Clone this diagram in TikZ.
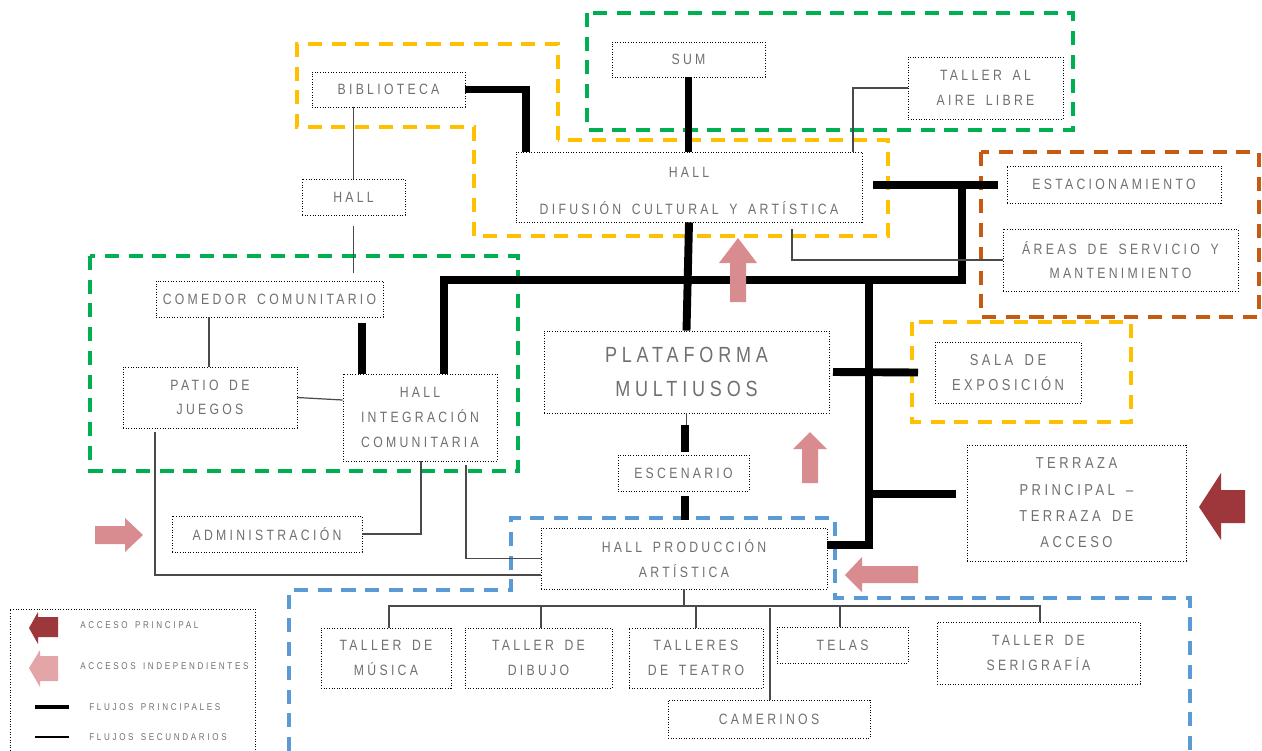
\documentclass[tikz,border=0pt]{standalone}
\usepackage{fontspec}
\setmainfont{Liberation Sans}
\newfontfamily\lab[FakeStretch=0.82,LetterSpace=22,WordSpace=1.6]{Liberation Sans}
\newfontfamily\legf[FakeStretch=0.82,LetterSpace=27,WordSpace=1.5]{Liberation Sans}
\definecolor{labgray}{HTML}{707070}
\definecolor{gyel}{HTML}{FFC000}
\definecolor{ggrn}{HTML}{00B050}
\definecolor{gbrn}{HTML}{C55A11}
\definecolor{gblu}{HTML}{5B9BD5}
\definecolor{accpink}{HTML}{D98C8F}
\definecolor{acclight}{HTML}{E3A5A8}
\definecolor{accdark}{HTML}{9E373B}
\definecolor{secline}{HTML}{4A4A4A}
\tikzset{
  box/.style={draw=black, densely dotted, line width=0.5pt, align=center, text=labgray,
    font=\lab\fontsize{8.5}{14}\selectfont, inner sep=0pt},
  mainflow/.style={line width=4.5pt, black, line cap=butt},
  secflow/.style={line width=0.7pt, secline},
  grp/.style={line width=2.2pt, dash pattern=on 8pt off 5.5pt},
  legtext/.style={text=labgray, font=\legf\fontsize{5.6}{7}\selectfont, anchor=west, inner sep=0pt},
}
\newcommand{\bx}[7][]{\node[box,#1,minimum width={(#5-#3)*0.02cm},minimum height={(#6-#4)*0.02cm}] (#2) at ({(#3+#5)/2},{(#4+#6)/2}) {#7};}
\begin{document}
\begin{tikzpicture}[x=0.02cm,y=-0.02cm]
\fill[white] (0,0) rectangle (1262,751);
\useasboundingbox (0,0) rectangle (1262,751);

% group outlines
\draw[grp, gyel] (558,140) -- (558,44) -- (297,44) -- (297,127) -- (474,127) -- (474,236) -- (888,236) -- (888,140) -- cycle;
\draw[grp, ggrn] (587,13) rectangle (1073,130);
\draw[grp, gbrn] (981,152) rectangle (1259,317);
\draw[grp, gyel] (912,322) rectangle (1131,422);
\draw[grp, ggrn] (90,256) rectangle (518,471);
\draw[grp, gblu] (289,751) -- (289,590) -- (511,590) -- (511,518) -- (835,518) -- (835,598) -- (1190,598) -- (1190,751);

% boxes
\bx{bib}{312}{72}{465}{107}{BIBLIOTECA}
\bx{hall}{302}{179}{405}{215}{HALL}
\bx{sum}{612}{42}{765}{77}{SUM}
\bx{aire}{908}{57}{1063}{119}{TALLER AL\\AIRE LIBRE}
\bx{hd}{516}{152}{862}{222}{\rule{0pt}{10pt}HALL\\[7pt]DIFUSIÓN CULTURAL Y ARTÍSTICA}
\bx{est}{1007}{166}{1221}{203}{ESTACIONAMIENTO}
\bx{areas}{1003}{229}{1238}{291}{ÁREAS DE SERVICIO Y\\MANTENIMIENTO}
\bx{com}{156}{281}{383}{317}{COMEDOR COMUNITARIO}
\bx{patio}{123}{367}{297}{428}{PATIO DE\\JUEGOS}
\bx{hi}{343}{374}{497}{461}{HALL\\INTEGRACIÓN\\COMUNITARIA}
\bx[font=\lab\fontsize{12.5}{19}\selectfont]{plat}{544}{331}{829}{413}{PLATAFORMA\\MULTIUSOS}
\bx[font=\lab\fontsize{9}{14.5}\selectfont]{sala}{935}{342}{1081}{403}{SALA DE\\EXPOSICIÓN}
\bx{esc}{618}{455}{749}{491}{ESCENARIO}
\bx[font=\lab\fontsize{9}{15}\selectfont]{terr}{967}{445}{1186}{561}{TERRAZA\\PRINCIPAL –\\TERRAZA DE\\ACCESO}
\bx{adm}{172}{516}{362}{552}{ADMINISTRACIÓN}
\bx{hp}{541}{528}{827}{589}{HALL PRODUCCIÓN\\ARTÍSTICA}
\bx{mus}{321}{628}{451}{688}{TALLER DE\\MÚSICA}
\bx{dib}{465}{628}{612}{688}{TALLER DE\\DIBUJO}
\bx{tea}{629}{628}{763}{688}{TALLERES\\DE TEATRO}
\bx{telas}{777}{627}{908}{663}{TELAS}
\bx{seri}{937}{622}{1140}{684}{TALLER DE\\SERIGRAFÍA}
\bx{cam}{668}{700}{870}{738}{CAMERINOS}

% named free ends
\coordinate (estA) at (873,185);
\coordinate (estB) at (998,185);
\coordinate (jr) at (962,280);
\coordinate (jk) at (869,280);
\coordinate (hpR) at (827,545);
\coordinate (terB) at (869,494);
\coordinate (terE) at (956,494);
\coordinate (bus) at (684,606);

% main flows
\draw[mainflow, line join=miter] (bib.east) -| (hd.north -| 526,0);
\draw[mainflow] (sum.south) -- (sum.south |- hd.north);
\draw[mainflow] (hd.south) -- (plat.north);
\draw[mainflow] (estA) -- (estB);
\draw[mainflow, line join=miter] (hi.north -| 444,0) |- (jr) -- (jr |- estB);
\draw[mainflow, line join=miter] (jk) |- (hpR);
\draw[mainflow] (plat.east -| 833,0) -- (sala.west -| 918,0);
\draw[mainflow] (terB) -- (terE);
\draw[mainflow] (362,323) -- (hi.north -| 362,0);
\draw[secflow] (plat.south) -- ++(0,12);
\draw[mainflow] (685,425) -- (685,452);
\draw[mainflow] (esc.south -| 685,0) ++(0,5) -- (685,520);

% secondary flows
\draw[secflow] (bib.south -| hall.north) -- (hall.north);
\draw[secflow] (hall.south) ++(0,11) -- ++(0,47);
\draw[secflow] (aire.west) -| (hd.north -| 853,0);
\draw[secflow] (hd.south -| 792,0) ++(0,7) |- (areas.west);
\draw[secflow] (com.south -| 209,0) -- (patio.north -| 209,0);
\draw[secflow] (patio.east) -- (hi.west |- 0,400);
\draw[secflow] (patio.south -| 155,0) ++(0,4) |- (hp.west |- 0,575);
\draw[secflow] (hi.south -| 421,0) |- (adm.east);
\draw[secflow] (hi.south -| 466,0) ++(0,4) |- (hp.west);
\draw[secflow] (hp.south) -- (bus);
\draw[secflow] (mus.north -| 389,0) |- (bus) -| (seri.north -| 1040,0);
\draw[secflow] (dib.north -| 541,0) -- (541,606);
\draw[secflow] (tea.north -| 696,0) -- (696,606);
\draw[secflow] (telas.north -| 840,0) -- (840,606);
\draw[secflow] (cam.north -| 770,0) -- (770,608);

% access arrows
\fill[accpink] (738,238) -- (757,263) -- (746,263) -- (746,302) -- (730,302) -- (730,263) -- (719,263) -- cycle;
\fill[accpink] (810,432) -- (827,449) -- (818,449) -- (818,483) -- (802,483) -- (802,449) -- (793,449) -- cycle;
\fill[accpink] (143,535) -- (125,552) -- (125,544) -- (95,544) -- (95,526) -- (125,526) -- (125,518) -- cycle;
\fill[accpink] (845,575) -- (862,557) -- (862,566) -- (918,566) -- (918,583) -- (862,583) -- (862,592) -- cycle;
\fill[accdark] (1199,507) -- (1221,473) -- (1221,490) -- (1245,490) -- (1245,523) -- (1221,523) -- (1221,540) -- cycle;

% legend
\draw[densely dotted, line width=0.5pt] (10,751) -- (10,609) -- (255,609) -- (255,751);
\fill[accdark] (29,628) -- (38,612) -- (38,617) -- (58,617) -- (58,637) -- (38,637) -- (38,644) -- cycle;
\fill[acclight] (29,668) -- (40,650) -- (40,656) -- (58,656) -- (58,681) -- (40,681) -- (40,687) -- cycle;
\draw[line width=2.6pt] (35,707) -- (69,707);
\draw[line width=0.8pt] (35,737) -- (69,737);
\node[legtext] (l1) at (80,625) {ACCESO PRINCIPAL};
\node[legtext] (l2) at (80,666) {ACCESOS INDEPENDIENTES};
\node[legtext] (l3) at (89,707) {FLUJOS PRINCIPALES};
\node[legtext] (l4) at (89,737) {FLUJOS SECUNDARIOS};
\end{tikzpicture}
\end{document}
